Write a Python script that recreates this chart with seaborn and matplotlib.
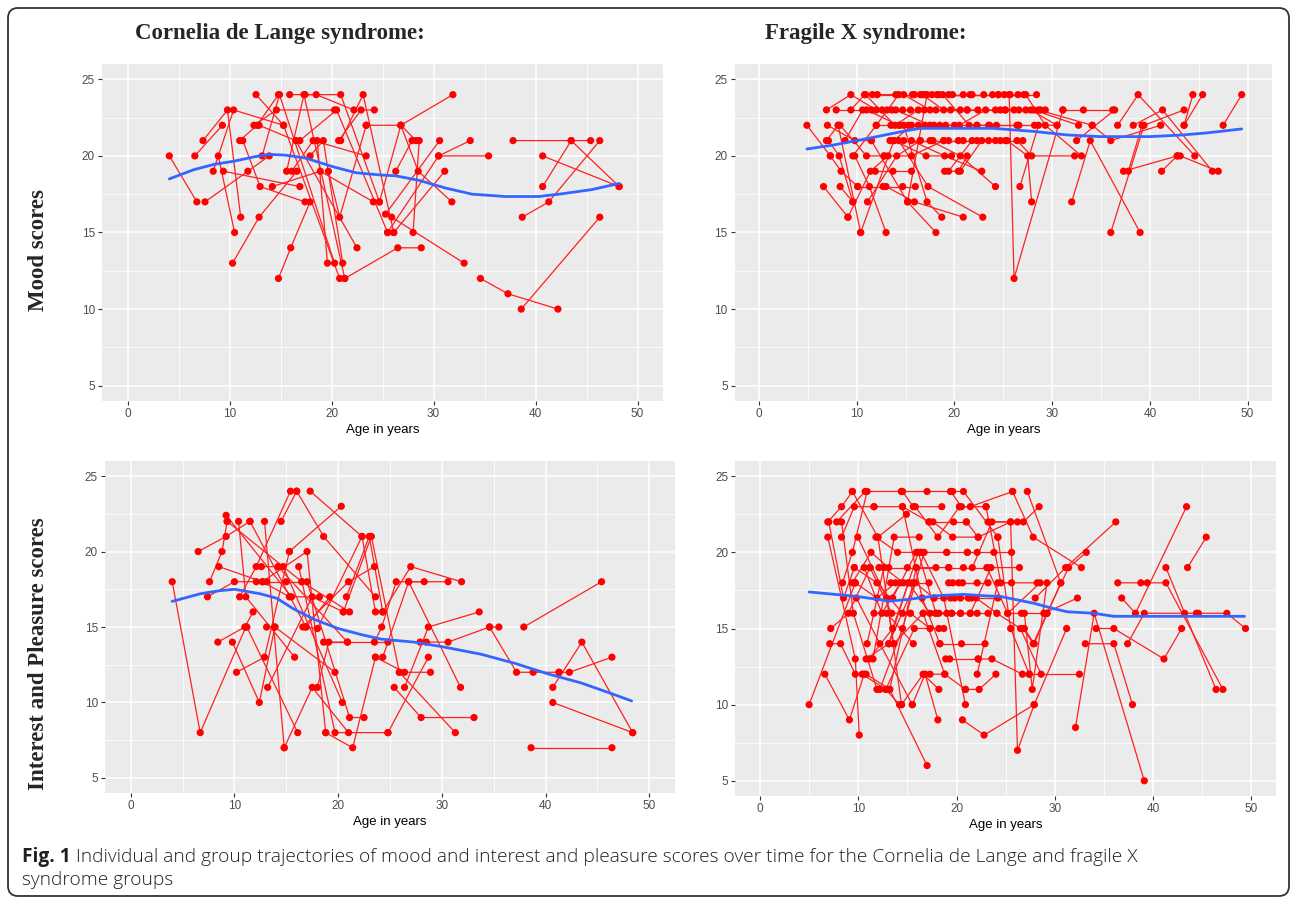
import matplotlib
matplotlib.use("Agg")
import matplotlib.pyplot as plt
import matplotlib.transforms as mtrans
from matplotlib.patches import FancyBboxPatch
from matplotlib.ticker import MultipleLocator
import seaborn as sns
import pandas as pd

# ---------------- DATA ----------------
col_titles = ["Cornelia de Lange syndrome:", "Fragile X syndrome:"]
row_titles = ["Mood scores", "Interest and Pleasure scores"]
x_label = "Age in years"
x_ticks = [0, 10, 20, 30, 40, 50]
y_ticks = [5, 10, 15, 20, 25]
caption_bold = "Fig. 1"
caption_line1 = " Individual and group trajectories of mood and interest and pleasure scores over time for the Cornelia de Lange and fragile X"
caption_line2 = "syndrome groups"

# individual trajectories: each inner list = one participant, (age, score)
cdls_mood = [
    [(4.1, 20), (6.8, 17)],
    [(6.6, 20), (9.3, 22)],
    [(7.4, 21), (9.8, 23), (11.1, 16)],
    [(7.6, 17), (11.8, 19), (13.9, 20)],
    [(8.4, 19), (10.4, 23), (15.3, 22)],
    [(8.9, 20), (10.5, 15)],
    [(9.4, 19), (16.9, 18)],
    [(10.3, 13), (12.9, 16), (16.6, 19)],
    [(11.0, 21), (12.7, 22), (14.8, 24)],
    [(11.3, 21), (13.0, 18), (17.4, 17)],
    [(12.4, 22), (14.6, 23), (20.3, 23)],
    [(12.6, 24), (15.3, 22), (20.8, 12)],
    [(12.9, 22), (16.5, 21), (22.5, 14)],
    [(13.2, 20), (14.9, 24), (20.3, 13)],
    [(14.2, 18), (18.9, 19), (24.1, 17)],
    [(14.8, 12), (16.0, 14), (17.9, 17)],
    [(15.6, 19), (17.3, 24), (21.3, 12)],
    [(15.9, 24), (18.5, 24), (22.2, 23)],
    [(16.1, 19), (18.2, 21), (23.4, 20)],
    [(16.9, 21), (20.5, 23), (25.5, 15)],
    [(17.4, 24), (20.9, 24), (24.7, 17)],
    [(17.9, 20), (19.2, 21), (21.1, 13)],
    [(18.6, 21), (19.6, 13)],
    [(19.7, 19), (20.8, 16), (23.4, 22)],
    [(20.7, 21), (22.9, 23), (24.2, 23)],
    [(20.9, 21), (23.1, 24), (26.1, 15)],
    [(21.3, 12), (26.5, 14), (28.8, 14)],
    [(23.4, 22), (26.8, 22), (31.9, 24)],
    [(24.7, 17), (26.8, 22), (28.3, 21)],
    [(25.3, 16.2), (30.6, 21)],
    [(25.5, 15), (30.5, 20), (35.4, 20)],
    [(26.1, 15), (31.1, 19)],
    [(25.9, 16), (33.0, 13)],
    [(26.3, 19), (27.9, 21)],
    [(26.8, 22), (28.5, 19), (31.8, 17)],
    [(28.0, 15), (28.6, 21)],
    [(30.5, 20), (33.6, 21)],
    [(34.6, 12), (37.3, 11), (42.2, 10)],
    [(38.6, 10), (46.3, 16)],
    [(37.8, 21), (43.5, 21), (48.2, 18)],
    [(40.7, 18), (43.5, 21), (45.4, 21)],
    [(40.7, 20), (48.2, 18)],
    [(38.7, 16), (41.3, 17), (46.3, 21)],
]

cdls_interest = [
    [(4.0, 18), (6.7, 8), (11.1, 15)],
    [(6.5, 20), (9.2, 21), (11.5, 22)],
    [(7.4, 17), (10.0, 18), (13.1, 18)],
    [(7.6, 18), (8.8, 20), (9.3, 22)],
    [(8.4, 14), (11.0, 15), (11.8, 16)],
    [(8.5, 19), (12.7, 18), (15.3, 17)],
    [(9.2, 22.4), (15.5, 17), (18.2, 17)],
    [(9.3, 22), (16.5, 18), (21.1, 16)],
    [(9.8, 14), (12.4, 10), (13.9, 15)],
    [(10.2, 12), (12.9, 13), (15.3, 20)],
    [(10.4, 22), (11.1, 17), (15.8, 13)],
    [(10.5, 17), (12.1, 19), (15.4, 24)],
    [(11.2, 15), (16.1, 8)],
    [(11.5, 22), (16.9, 15), (19.2, 17)],
    [(12.1, 18), (15.0, 18), (16.5, 18)],
    [(12.6, 19), (14.2, 19), (20.9, 14)],
    [(12.7, 18), (17.0, 20), (18.8, 8)],
    [(12.9, 22), (14.8, 7)],
    [(13.1, 15), (13.9, 15), (19.7, 12)],
    [(13.2, 11), (17.5, 17), (20.5, 16)],
    [(14.5, 22), (16.0, 24)],
    [(14.7, 19), (20.4, 10)],
    [(14.8, 7), (17.5, 11), (21.0, 8)],
    [(16.0, 24), (18.6, 21), (23.6, 17)],
    [(16.2, 19), (19.7, 8), (24.8, 8)],
    [(16.6, 15), (21.0, 18), (23.5, 19)],
    [(16.9, 15), (18.0, 14.9), (22.3, 21)],
    [(17.0, 18), (21.1, 9), (22.5, 9)],
    [(17.3, 24), (22.3, 21), (23.6, 16)],
    [(18.0, 11), (19.1, 14), (20.9, 14)],
    [(18.6, 14), (24.8, 14)],
    [(15.3, 20), (20.3, 23)],
    [(20.8, 17), (23.0, 21), (24.3, 16)],
    [(20.5, 16), (23.2, 21), (25.9, 12)],
    [(18.8, 8), (21.4, 7), (23.6, 13)],
    [(23.5, 14), (24.2, 15), (25.6, 18), (30.6, 18)],
    [(23.6, 13), (26.4, 12), (28.9, 12)],
    [(24.3, 13), (26.8, 18), (28.3, 18)],
    [(24.3, 16), (27.0, 19), (31.9, 18)],
    [(25.4, 11), (28.0, 9), (33.1, 9)],
    [(25.9, 12), (31.3, 8)],
    [(26.4, 11), (28.7, 15), (33.6, 16)],
    [(26.8, 18), (31.8, 11)],
    [(27.9, 14), (28.5, 14), (30.6, 14), (34.6, 15), (35.5, 15)],
    [(24.8, 8), (28.7, 13)],
    [(34.6, 15), (37.2, 12), (38.8, 12), (41.3, 12)],
    [(37.9, 15), (45.4, 18)],
    [(40.7, 11), (43.5, 14), (48.4, 8)],
    [(40.7, 10), (48.4, 8)],
    [(38.6, 7), (46.4, 7)],
    [(41.3, 12), (42.3, 12), (46.4, 13)],
]

fxs_mood = [
    [(4.9, 22), (7.3, 20)],
    [(6.6, 18), (9.1, 16)],
    [(6.9, 23), (9.4, 24), (12.0, 23)],
    [(6.9, 21), (8.1, 22)],
    [(7.0, 22), (9.8, 21), (11.5, 21)],
    [(7.1, 21), (8.2, 20), (9.6, 17)],
    [(7.3, 20), (8.4, 19), (10.1, 18)],
    [(7.9, 23), (11.5, 23)],
    [(8.1, 22), (10.4, 15)],
    [(8.3, 22), (11.0, 20), (12.8, 20)],
    [(8.3, 18), (9.6, 17)],
    [(8.8, 21), (10.6, 23), (13.6, 23)],
    [(9.1, 16), (11.4, 19), (13.2, 20)],
    [(9.4, 23), (10.8, 24), (14.0, 24)],
    [(9.6, 20), (12.0, 22), (14.3, 24)],
    [(9.8, 20), (11.3, 18), (13.0, 15)],
    [(10.1, 18), (12.7, 18), (14.7, 18), (16.0, 18)],
    [(10.4, 15), (13.8, 21), (15.6, 22)],
    [(10.9, 24), (13.9, 22), (16.3, 23)],
    [(11.0, 23), (14.3, 22), (17.0, 22)],
    [(11.1, 17), (14.1, 20), (16.5, 21)],
    [(11.5, 21), (15.2, 17), (18.1, 15)],
    [(11.6, 24), (14.8, 24), (17.5, 23)],
    [(11.9, 19), (13.7, 19), (15.6, 19)],
    [(12.0, 22), (15.3, 22), (17.9, 22)],
    [(12.1, 24), (15.7, 24), (18.2, 24)],
    [(12.6, 23), (15.5, 23), (19.6, 23)],
    [(12.8, 20), (15.6, 20), (18.9, 21)],
    [(13.0, 18), (15.9, 17), (20.9, 16)],
    [(13.1, 23), (16.9, 23), (20.6, 23)],
    [(13.4, 21), (16.5, 21), (19.4, 21)],
    [(13.5, 22), (16.3, 22), (19.1, 22)],
    [(13.8, 21), (17.1, 20), (19.7, 20)],
    [(14.0, 23), (17.5, 22), (20.0, 22)],
    [(14.3, 21), (17.3, 18), (22.9, 16)],
    [(14.4, 22), (18.5, 22), (22.3, 22)],
    [(14.7, 23), (18.1, 23), (21.3, 23)],
    [(14.8, 21), (17.8, 21), (20.4, 21)],
    [(14.8, 22), (17.2, 17), (18.7, 16)],
    [(15.2, 17), (17.2, 24), (19.4, 24)],
    [(15.6, 21), (19.0, 20), (22.8, 19)],
    [(15.9, 24), (18.4, 24), (21.6, 24)],
    [(16.5, 24), (19.8, 24), (23.0, 24)],
    [(16.7, 24), (18.9, 23), (22.4, 23)],
    [(17.0, 24), (20.9, 24), (24.5, 24)],
    [(17.5, 21), (20.6, 20), (24.2, 18)],
    [(17.7, 24), (21.8, 24), (25.1, 24)],
    [(18.8, 24), (21.5, 22), (23.5, 22)],
    [(18.9, 21), (20.9, 21), (22.3, 21)],
    [(19.0, 19), (20.4, 19), (21.3, 20)],
    [(19.4, 19), (21.8, 21), (24.2, 21)],
    [(20.5, 22), (23.2, 23), (25.2, 23)],
    [(20.6, 19), (22.8, 21), (25.2, 21)],
    [(21.3, 23), (24.2, 23), (27.3, 23)],
    [(22.3, 22), (24.3, 22), (26.4, 22)],
    [(23.5, 21), (24.7, 21), (27.0, 21)],
    [(23.6, 22), (26.6, 22), (28.2, 22)],
    [(23.9, 24), (25.7, 24), (28.4, 24)],
    [(24.5, 24), (26.5, 24), (27.1, 24)],
    [(24.7, 23), (27.8, 23), (30.5, 22)],
    [(25.2, 23), (28.1, 23), (32.7, 22)],
    [(25.4, 21), (27.5, 20), (27.9, 17)],
    [(25.6, 24), (26.1, 12), (31.1, 23)],
    [(26.1, 23), (28.6, 23), (34.1, 22)],
    [(26.4, 21), (27.9, 20), (32.3, 20)],
    [(26.6, 23), (28.8, 23), (29.3, 23)],
    [(26.7, 18), (28.6, 22), (30.5, 22)],
    [(27.3, 24), (29.3, 22), (33.0, 20)],
    [(32.0, 17), (33.9, 21), (39.0, 15)],
    [(31.1, 23), (33.2, 23), (36.2, 23)],
    [(32.5, 21), (36.4, 23)],
    [(34.1, 22), (36.0, 21), (41.1, 22)],
    [(36.0, 15), (39.4, 22), (43.5, 23)],
    [(36.7, 22), (38.8, 24), (44.6, 20)],
    [(37.3, 19), (42.8, 20), (43.1, 20), (47.0, 19)],
    [(37.8, 19), (39.2, 22)],
    [(38.3, 22), (41.3, 23), (46.4, 19)],
    [(41.2, 19), (42.8, 20)],
    [(43.5, 22), (44.4, 24)],
    [(43.5, 22), (45.4, 24)],
    [(47.5, 22), (49.4, 24)],
]

fxs_interest = [
    [(5.0, 10), (9.7, 18)],
    [(6.6, 12), (9.1, 9), (10.6, 12)],
    [(6.9, 22), (8.3, 23), (9.4, 24)],
    [(6.9, 21), (9.7, 13), (10.1, 8)],
    [(7.0, 22), (8.5, 17), (9.6, 19)],
    [(7.1, 14), (8.2, 14), (9.7, 12)],
    [(7.2, 15), (9.0, 16), (11.2, 19)],
    [(7.8, 22), (10.7, 24), (14.4, 24)],
    [(8.3, 22), (9.5, 16), (11.9, 11)],
    [(8.3, 21), (9.6, 23), (11.6, 23)],
    [(8.4, 18), (9.4, 20), (10.9, 24)],
    [(9.4, 18), (11.3, 20), (13.1, 19)],
    [(9.4, 24), (12.0, 21), (13.6, 14)],
    [(9.6, 19), (11.9, 18), (14.5, 16)],
    [(9.7, 18), (11.9, 17), (13.8, 18)],
    [(9.8, 17), (12.2, 14), (15.5, 10)],
    [(9.95, 21), (12.9, 17), (14.4, 10)],
    [(10.4, 12), (12.8, 11), (14.2, 10)],
    [(10.6, 19), (12.4, 16), (14.3, 18)],
    [(10.8, 12), (13.2, 11), (17.0, 6)],
    [(10.8, 13), (13.1, 14), (16.1, 20)],
    [(10.9, 14), (12.6, 19), (14.6, 18)],
    [(11.1, 13), (13.5, 15), (15.1, 18)],
    [(11.2, 19), (13.4, 16), (15.3, 16)],
    [(11.5, 13), (13.65, 21), (16.2, 21)],
    [(11.6, 16), (12.9, 16), (15.6, 14)],
    [(11.6, 23), (14.5, 23), (17.2, 22)],
    [(11.8, 21), (14.0, 20), (16.4, 20)],
    [(12.0, 21), (14.9, 22.5)],
    [(12.1, 19), (15.0, 19), (17.9, 19)],
    [(12.2, 11), (14.5, 15), (16.7, 20)],
    [(12.8, 11), (15.7, 15), (18.2, 15)],
    [(13.1, 14), (15.8, 18), (17.7, 17)],
    [(13.2, 11), (15.9, 19), (19.2, 19)],
    [(13.3, 18), (15.5, 18), (17.2, 18)],
    [(13.5, 17), (15.9, 20), (19.0, 20)],
    [(13.6, 14), (16.6, 16), (18.8, 12)],
    [(14.4, 24), (17.0, 24), (19.4, 24)],
    [(14.5, 23), (16.5, 17), (18.3, 14)],
    [(14.5, 24), (15.6, 23), (18.5, 23)],
    [(14.4, 10), (16.6, 12), (18.2, 11)],
    [(15.1, 18), (17.3, 16), (19.5, 16)],
    [(15.3, 16), (17.3, 15), (18.7, 15)],
    [(15.5, 10), (16.8, 12), (18.1, 9)],
    [(15.8, 23), (18.1, 21), (20.3, 23)],
    [(16.1, 20), (17.9, 16), (20.4, 16)],
    [(16.4, 20), (18.7, 17), (20.9, 10)],
    [(16.6, 16), (19.0, 16), (21.4, 16)],
    [(17.3, 12), (18.8, 12), (20.9, 11)],
    [(17.2, 22), (19.7, 22), (21.0, 22)],
    [(17.6, 22), (19.6, 21), (22.2, 21)],
    [(17.7, 17), (19.4, 17), (21.2, 17)],
    [(17.9, 16), (19.5, 16), (22.1, 16)],
    [(18.2, 16), (20.4, 16), (23.2, 16)],
    [(18.3, 14), (20.5, 14), (22.9, 14)],
    [(18.9, 13), (19.3, 13), (22.2, 13)],
    [(19.0, 20), (21.1, 20), (22.1, 20)],
    [(19.2, 18), (20.2, 18), (22.1, 18)],
    [(19.2, 19), (20.7, 19), (23.1, 19)],
    [(19.4, 24), (20.5, 23), (23.0, 23)],
    [(19.6, 18), (20.6, 18), (23.2, 18)],
    [(19.6, 24), (20.7, 24), (24.2, 21)],
    [(19.8, 17), (21.5, 17), (24.2, 17)],
    [(20.3, 23), (21.4, 23), (25.7, 24)],
    [(20.4, 17), (22.0, 17), (24.1, 16)],
    [(20.6, 9), (22.8, 8), (27.9, 10)],
    [(20.9, 11), (22.3, 11), (24.0, 12)],
    [(21.0, 22), (22.2, 21), (25.5, 22)],
    [(21.1, 20), (23.8, 20), (25.6, 20)],
    [(21.4, 16), (23.5, 19), (26.4, 19)],
    [(21.6, 19), (23.6, 22), (26.2, 22)],
    [(22.1, 12), (24.2, 18), (25.6, 18)],
    [(22.2, 13), (23.6, 13), (26.7, 12)],
    [(23.0, 23), (24.5, 18), (28.2, 18)],
    [(23.1, 19), (25.2, 16), (28.5, 18)],
    [(23.2, 22), (26.8, 22), (28.4, 23)],
    [(24.2, 21), (25.5, 15), (27.4, 12)],
    [(24.1, 16), (26.5, 15), (28.6, 12)],
    [(25.2, 16), (26.6, 16), (28.9, 16)],
    [(25.7, 24), (27.8, 21), (32.7, 19)],
    [(25.5, 22), (26.2, 7), (27.9, 10), (31.2, 15)],
    [(26.8, 15), (27.8, 14), (29.2, 16)],
    [(26.9, 16), (27.7, 11), (29.2, 18)],
    [(26.9, 15), (27.9, 14), (30.6, 18)],
    [(27.2, 24), (30.6, 18)],
    [(28.0, 17), (31.1, 19), (36.2, 22)],
    [(29.2, 16), (31.4, 19), (33.2, 20)],
    [(32.1, 8.5), (34.0, 16), (39.1, 5)],
    [(27.4, 12), (32.5, 12)],
    [(28.9, 16), (32.3, 17)],
    [(34.2, 15), (36.0, 15), (41.1, 13), (42.9, 15)],
    [(33.1, 14), (36.0, 14), (37.9, 10)],
    [(36.4, 18), (38.75, 18), (39.4, 18), (41.3, 18), (47.1, 11)],
    [(36.8, 17), (38.2, 16), (43.4, 23)],
    [(37.4, 14), (39.1, 16), (43.2, 16), (44.4, 16)],
    [(41.3, 19), (46.4, 11)],
    [(43.5, 19), (45.4, 21)],
    [(44.6, 16), (47.5, 16), (49.4, 15)],
]

# group (smoothed) trajectories
cdls_mood_smooth_age = [4.1, 6.5, 8.5, 10.4, 12.5, 13.9, 15.5, 17.5, 20.1, 22.4, 24.7, 26.3, 28.6, 31.2, 33.8, 37.1, 40.3, 42.3, 45.5, 48.2]
cdls_mood_smooth_score = [18.5, 19.1, 19.45, 19.65, 19.95, 20.1, 20.05, 19.85, 19.3, 18.9, 18.76, 18.7, 18.4, 17.9, 17.5, 17.35, 17.35, 17.5, 17.8, 18.2]
cdls_int_smooth_age = [4.0, 6.7, 8.5, 10.0, 12.5, 14.1, 15.7, 17.7, 20.0, 22.2, 24.1, 27.3, 30.0, 33.75, 37.0, 40.2, 43.4, 46.3, 48.3]
cdls_int_smooth_score = [16.7, 17.2, 17.4, 17.5, 17.2, 16.9, 16.2, 15.5, 14.9, 14.5, 14.2, 14.0, 13.7, 13.2, 12.6, 11.9, 11.3, 10.6, 10.1]
fxs_mood_smooth_age = [4.9, 7.5, 10.0, 12.0, 15.1, 16.5, 20.6, 24.0, 28.1, 31.5, 34.9, 40.0, 43.4, 45.8, 49.4]
fxs_mood_smooth_score = [20.45, 20.7, 21.0, 21.25, 21.65, 21.8, 21.8, 21.8, 21.6, 21.37, 21.26, 21.26, 21.37, 21.5, 21.76]
fxs_int_smooth_age = [5.0, 9.95, 13.2, 14.9, 18.0, 20.7, 22.8, 24.5, 27.9, 29.9, 31.25, 33.95, 36.0, 39.7, 44.8, 49.3]
fxs_int_smooth_score = [17.4, 17.1, 16.8, 16.9, 17.15, 17.24, 17.15, 17.1, 16.65, 16.3, 16.1, 16.0, 15.8, 15.8, 15.8, 15.8]


def to_frame(trajs):
    rows = []
    for pid, tr in enumerate(trajs):
        for age, score in tr:
            rows.append({"pid": pid, "age": age, "score": score})
    return pd.DataFrame(rows)


panels = [
    (cdls_mood, cdls_mood_smooth_age, cdls_mood_smooth_score),
    (fxs_mood, fxs_mood_smooth_age, fxs_mood_smooth_score),
    (cdls_interest, cdls_int_smooth_age, cdls_int_smooth_score),
    (fxs_interest, fxs_int_smooth_age, fxs_int_smooth_score),
]

# ---------------- FIGURE ----------------
sns.set_theme(style="darkgrid")
plt.rcParams["font.family"] = ["Liberation Sans", "DejaVu Sans"]

W, H = 1295, 900
fig = plt.figure(figsize=(W / 100, H / 100), dpi=100)
fig.patch.set_facecolor("white")

# panel rectangles in pixels: (left, top, right, bottom)
rects = [
    (102, 64, 663, 401),
    (734.6, 64, 1272, 401),
    (104.8, 461, 675.2, 793),
    (735.4, 461, 1276, 796),
]

for (trajs, s_age, s_score), (l, t, r, b) in zip(panels, rects):
    ax = fig.add_axes([l / W, 1 - b / H, (r - l) / W, (b - t) / H])
    df = to_frame(trajs)
    sns.lineplot(data=df, x="age", y="score", units="pid", estimator=None,
                 color="#FF2020", lw=0.9, ax=ax, legend=False, zorder=2)
    sns.scatterplot(data=df, x="age", y="score", color="#FF0000", s=27,
                    edgecolor="none", ax=ax, legend=False, zorder=3)
    sm = pd.DataFrame({"age": s_age, "score": s_score})
    sns.lineplot(data=sm, x="age", y="score", color="#3366FF", lw=2.0,
                 ax=ax, legend=False, zorder=4, sort=True)
    ax.set_xlim(-2.5, 52.5)
    ax.set_ylim(4, 26)
    ax.set_facecolor("#EBEBEB")
    ax.set_xticks(x_ticks)
    ax.set_yticks(y_ticks)
    ax.xaxis.set_minor_locator(MultipleLocator(5))
    ax.yaxis.set_minor_locator(MultipleLocator(2.5))
    ax.grid(which="major", color="white", lw=1.1)
    ax.grid(which="minor", color="white", lw=0.55)
    ax.set_axisbelow(True)
    for sp in ax.spines.values():
        sp.set_visible(False)
    ax.tick_params(axis="both", which="major", length=3, width=0.8,
                   color="#333333", labelcolor="#4D4D4D", labelsize=8.5, pad=2,
                   bottom=True, left=True)
    ax.tick_params(which="minor", length=0)
    ax.set_xlabel(x_label, fontsize=9.5, color="black", labelpad=3)
    ax.set_ylabel("")

# column titles
serif = ["Liberation Serif", "DejaVu Serif"]
fig.text(280 / W, 1 - 33 / H, col_titles[0], family=serif, weight="bold",
         fontsize=16.5, ha="center", va="center")
fig.text(866 / W, 1 - 33 / H, col_titles[1], family=serif, weight="bold",
         fontsize=16.5, ha="center", va="center")
# row titles
fig.text(39 / W, 1 - 250 / H, row_titles[0], family=serif, weight="bold",
         fontsize=16.5, ha="center", va="center", rotation=90)
fig.text(39 / W, 1 - 654 / H, row_titles[1], family=serif, weight="bold",
         fontsize=16.5, ha="center", va="center", rotation=90)

# caption (size fitted so the first line ends near x=1140 px)
cap_font = ["Open Sans", "DejaVu Sans"]
renderer = fig.canvas.get_renderer()
t1 = fig.text(22 / W, 1 - 857 / H, caption_bold, family=cap_font, weight="bold",
              fontsize=11, ha="left", va="center", color="#231F20")
t2 = fig.text(0, 1 - 857 / H, caption_line1, family=cap_font, weight="light",
              fontsize=11, ha="left", va="center", color="#231F20")
w_total = (t1.get_window_extent(renderer).width
           + t2.get_window_extent(renderer).width)
fs = 11 * (1140 - 22) / w_total
t1.set_fontsize(fs)
t2.set_fontsize(fs)
ext = t1.get_window_extent(renderer)
t2.set_x(ext.x1 / W)
fig.text(22 / W, 1 - 880 / H, caption_line2, family=cap_font, weight="light",
         fontsize=fs, ha="left", va="center", color="#231F20")

# rounded border
border = FancyBboxPatch((8, H - 896), W - 14, 888,
                        boxstyle="round,pad=0,rounding_size=10",
                        transform=mtrans.IdentityTransform(),
                        fill=False, edgecolor="#333333", lw=1.3)
fig.patches.append(border)

fig.savefig("out.png", dpi=100)
